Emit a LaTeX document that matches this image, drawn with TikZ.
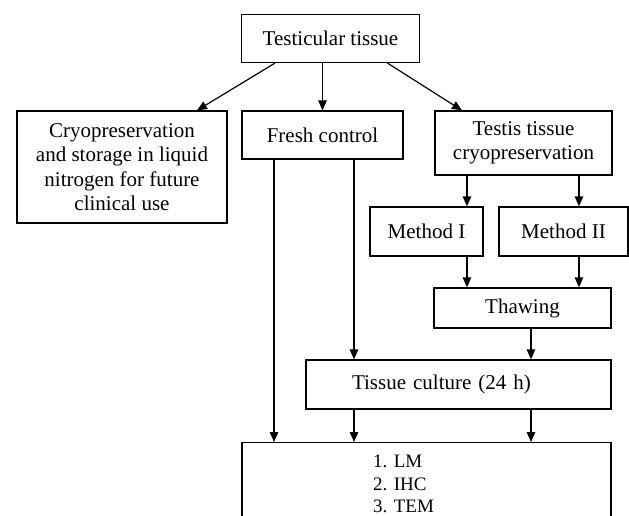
\documentclass[tikz,border=0pt]{standalone}
\usepackage{fontspec}
\setmainfont{Liberation Serif}
\usepackage{tikz}
\usetikzlibrary{arrows.meta}

\begin{document}
\begin{tikzpicture}[x=1pt,y=-1pt,
    boxed/.style={draw,line width=1.2pt,inner sep=0pt,align=center,font=\fontsize{21}{24.5}\selectfont},
    flow/.style={line width=1.2pt,->}]
\useasboundingbox (0,0) rectangle (629,516);
\clip (0,0) rectangle (629,516);
\begin{scope}[>={Triangle[length=10pt,width=8.5pt]}]
    \node[boxed,minimum width=178pt,minimum height=48pt] (tissue) at (330.5,38.5) {Testicular tissue};

    \node[boxed,minimum width=210pt,minimum height=112pt] (storage) at (122,167) {Cryopreservation\\and storage in liquid\\nitrogen for future\\clinical use};
    \node[boxed,minimum width=161pt,minimum height=48pt] (fresh) at (322.5,135) {Fresh control};
    \node[boxed,minimum width=177pt,minimum height=64pt] (cryo) at (523.5,143) {Testis tissue\\cryopreservation};

    \node[boxed,minimum width=113pt,minimum height=49pt] (methA) at (426.5,231.5) {Method I};
    \node[boxed,minimum width=129pt,minimum height=49pt] (methB) at (563.5,231.5) {Method II};

    \node[boxed,minimum width=177pt,minimum height=40pt] (thaw) at (522.5,308) {Thawing};
    \node[boxed,inner xsep=46pt,text width=213pt,align=left,minimum height=49pt] (culture) at (458.5,384.5) {Tissue culture (24 h)};

    \node[boxed,minimum width=369pt,minimum height=100pt,anchor=north] (analysis) at (426.5,442) {};
    \node[anchor=west,align=left,inner sep=0pt,font=\fontsize{19}{22.7}\selectfont] (methods) at (373,484) {1. LM\\2. IHC\\3. TEM};

    \draw[flow] ([xshift=-55.5pt]tissue.south) -- ([xshift=75pt]storage.north);
    \draw[flow] (tissue.south -| fresh.north) -- (fresh.north);
    \draw[flow] ([xshift=57pt]tissue.south) -- ([xshift=-61.5pt]cryo.north);

    \draw[flow] ([xshift=40.5pt]methA.north |- cryo.south) -- ([xshift=40.5pt]methA.north);
    \draw[flow] ([xshift=15.5pt]methB.north |- cryo.south) -- ([xshift=15.5pt]methB.north);

    \draw[flow] ([xshift=40.5pt]methA.south) -- ([xshift=40.5pt]methA.south |- thaw.north);
    \draw[flow] ([xshift=15.5pt]methB.south) -- ([xshift=15.5pt]methB.south |- thaw.north);

    \draw[flow] ([xshift=8.5pt]thaw.south) -- ([xshift=8.5pt]thaw.south |- culture.north);

    \draw[flow] ([xshift=31.5pt]fresh.south) -- ([xshift=31.5pt]fresh.south |- culture.north);
    \draw[flow] ([xshift=-48.5pt]fresh.south) -- ([xshift=-48.5pt]fresh.south |- analysis.north);

    \draw[flow] ([xshift=-104.5pt]culture.south) -- ([xshift=-104.5pt]culture.south |- analysis.north);
    \draw[flow] ([xshift=72.5pt]culture.south) -- ([xshift=72.5pt]culture.south |- analysis.north);
\end{scope}
\end{tikzpicture}
\end{document}
